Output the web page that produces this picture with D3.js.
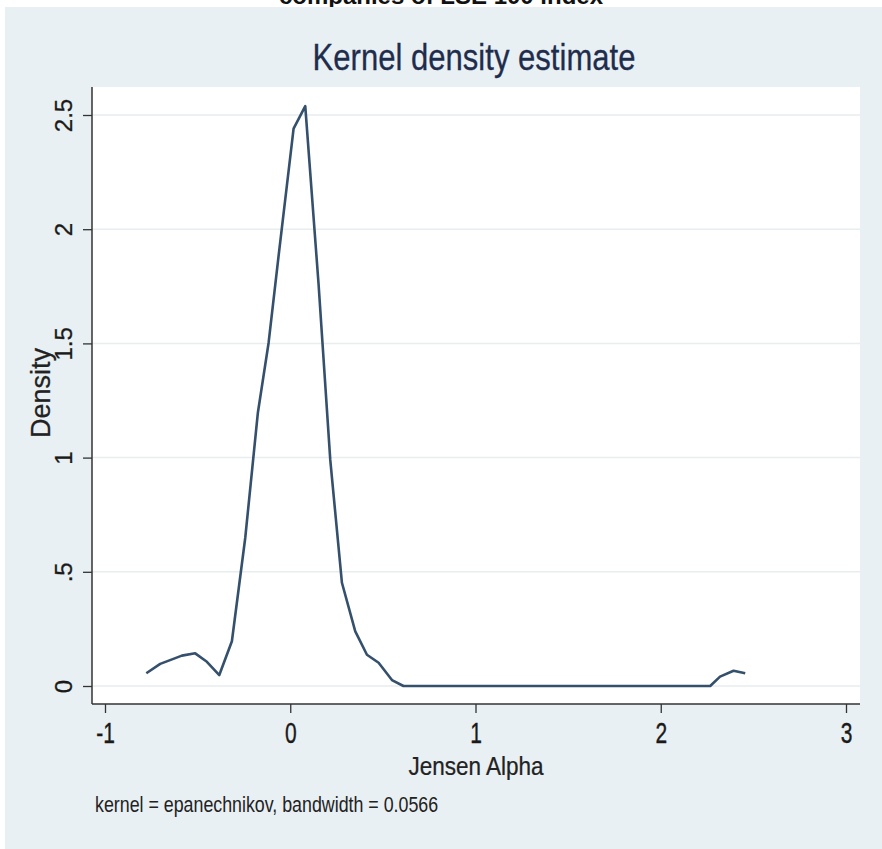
<!DOCTYPE html>
<html><head><meta charset="utf-8">
<script src="https://cdn.jsdelivr.net/npm/d3@7"></script>
<style>body{margin:0;background:#fff}svg{display:block}text{font-family:"Liberation Sans",Arial,sans-serif}</style>
</head><body>
<svg id="c" width="882" height="849"></svg>
<script>
const xTicks = [-1, 0, 1, 2, 3];
const yTicks = [0, 0.5, 1, 1.5, 2, 2.5];
const yTickLabels = ["0", ".5", "1", "1.5", "2", "2.5"];
const jensenAlpha = [-0.777, -0.702, -0.585, -0.513, -0.450, -0.383, -0.315, -0.243, -0.175, -0.117, -0.059, 0.018, 0.081, 0.153, 0.216, 0.279, 0.351, 0.414, 0.477, 0.549, 0.611, 1.0, 1.5, 2.0, 2.267, 2.32, 2.393, 2.456];
const density = [0.056, 0.097, 0.133, 0.143, 0.106, 0.048, 0.196, 0.648, 1.195, 1.502, 1.911, 2.440, 2.539, 1.758, 0.990, 0.452, 0.239, 0.137, 0.102, 0.026, 0, 0, 0, 0, 0, 0.041, 0.067, 0.056];
const titleText = "Kernel density estimate";
const topText = "companies of LSE 100 index";
const xLabel = "Jensen Alpha";
const yLabel = "Density";
const noteText = "kernel = epanechnikov, bandwidth = 0.0566";

const svg = d3.select("#c");
const L = 92, R = 860, T = 87, B = 704;
const x = d3.scaleLinear().domain([-1, 3]).range([105, 846]);
const y = d3.scaleLinear().domain([0, 2.5]).range([686, 115]);

// cropped header text (cut off at the top in the reference)
svg.append("text").attr("x", 441).attr("y", 4).attr("text-anchor", "middle")
  .attr("font-size", 24).attr("font-weight", "bold").attr("fill", "#111")
  .attr("font-family", "'DejaVu Sans', sans-serif").text(topText);

svg.append("rect").attr("x", 5).attr("y", 7).attr("width", 877).attr("height", 842).attr("fill", "#e9f0f3");
svg.append("rect").attr("x", L).attr("y", T).attr("width", R - L).attr("height", B - T).attr("fill", "#ffffff");

// gridlines
svg.append("g").selectAll("line").data(yTicks).join("line")
  .attr("x1", L).attr("x2", R).attr("y1", d => y(d)).attr("y2", d => y(d))
  .attr("stroke", "#e8edf0").attr("stroke-width", 1.5);

// title
svg.append("text").attr("transform", "translate(474,70) scale(0.84,1)").attr("text-anchor", "middle")
  .attr("font-size", 37).attr("fill", "#1f2d4d").attr("stroke", "#1f2d4d").attr("stroke-width", 0.3).text(titleText);

// x axis
const xAxis = d3.axisBottom(x).tickValues(xTicks).tickSize(9).tickFormat(d => String(d));
const gx = svg.append("g").attr("transform", `translate(0,${B})`).call(xAxis);
gx.select(".domain").attr("d", `M${L},0H${R}`).attr("stroke", "#333").attr("stroke-width", 1.5);
gx.selectAll(".tick line").attr("stroke", "#333").attr("stroke-width", 1.3);
gx.selectAll(".tick text").attr("font-size", 30).attr("fill", "#1a1a1a").attr("stroke", "#1a1a1a").attr("stroke-width", 0.4)
  .attr("y", 0).attr("dy", 0).attr("text-anchor", "middle")
  .attr("transform", "translate(0,39) scale(0.7,1)");

// y axis
const yAxis = d3.axisLeft(y).tickValues(yTicks).tickSize(9).tickFormat((d, i) => yTickLabels[i]);
const gy = svg.append("g").attr("transform", `translate(${L},0)`).call(yAxis);
gy.select(".domain").attr("d", `M0,${T}V${B}`).attr("stroke", "#333").attr("stroke-width", 1.5);
gy.selectAll(".tick line").attr("stroke", "#333").attr("stroke-width", 1.3);
gy.selectAll(".tick text").attr("font-size", 24).attr("fill", "#1a1a1a").attr("stroke", "#1a1a1a").attr("stroke-width", 0.3)
  .attr("x", 0).attr("dy", 0).attr("text-anchor", "middle")
  .attr("transform", "translate(-20,0) rotate(-90)");

// axis labels
svg.append("text").attr("transform", `translate(476,775) scale(0.9,1)`).attr("text-anchor", "middle")
  .attr("font-size", 25).attr("fill", "#222").attr("stroke", "#222").attr("stroke-width", 0.25).text(xLabel);
svg.append("text").attr("transform", `translate(50,393) rotate(-90)`).attr("text-anchor", "middle")
  .attr("font-size", 27).attr("fill", "#222").attr("stroke", "#222").attr("stroke-width", 0.25).text(yLabel);

// note
svg.append("text").attr("transform", `translate(95,812) scale(0.81,1)`).attr("text-anchor", "start")
  .attr("font-size", 22).attr("fill", "#222").text(noteText);

// density line
const line = d3.line().x((d, i) => x(jensenAlpha[i])).y(d => y(d));
svg.append("path").datum(density).attr("d", line).attr("fill", "none")
  .attr("stroke", "#34506c").attr("stroke-width", 2.6).attr("stroke-linejoin", "round");
</script>
</body></html>
